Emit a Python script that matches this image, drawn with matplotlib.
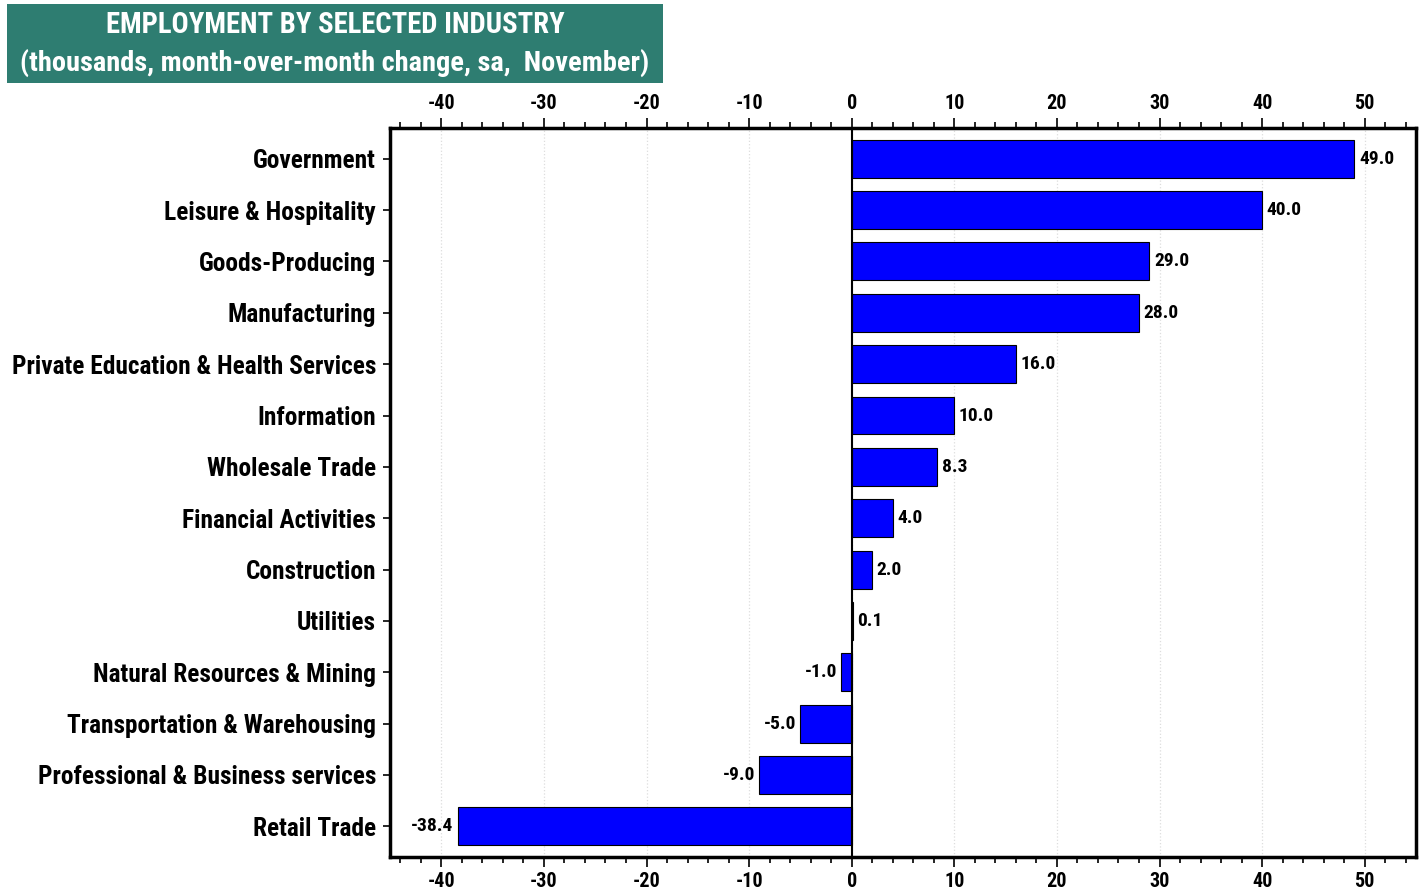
import matplotlib.pyplot as plt
from matplotlib.patches import Rectangle
from matplotlib.ticker import MultipleLocator

plt.rcParams['font.family'] = ['Roboto Condensed', 'DejaVu Sans']
plt.rcParams['axes.unicode_minus'] = False

industries = ["Government", "Leisure & Hospitality", "Goods-Producing", "Manufacturing",
              "Private Education & Health Services", "Information", "Wholesale Trade",
              "Financial Activities", "Construction", "Utilities",
              "Natural Resources & Mining", "Transportation & Warehousing",
              "Professional & Business services", "Retail Trade"]
changes = [49.0, 40.0, 29.0, 28.0, 16.0, 10.0, 8.3, 4.0, 2.0, 0.1, -1.0, -5.0, -9.0, -38.4]

fig = plt.figure(figsize=(14.24, 8.94), dpi=100)
ax = fig.add_axes([0.2739, 0.0414, 0.7205, 0.8154])

ypos = list(range(len(industries)))
ax.barh(ypos, changes, height=0.74, color='#0000FF', edgecolor='black', linewidth=0.8, zorder=3)
ax.axvline(0, color='black', linewidth=1.5, zorder=4)

for y, v in zip(ypos, changes):
    if v >= 0:
        ax.text(v + 0.45, y, f"{v:.1f}", va='center', ha='left', fontsize=14, fontweight='bold')
    else:
        ax.text(v - 0.45, y, f"{v:.1f}", va='center', ha='right', fontsize=14, fontweight='bold')

ax.set_xlim(-45, 55)
ax.set_ylim(13.6, -0.6)
ax.set_yticks(ypos)
ax.set_yticklabels(industries, fontsize=18.3, fontweight='bold')
ax.set_xticks([-40, -30, -20, -10, 0, 10, 20, 30, 40, 50])
ax.xaxis.set_minor_locator(MultipleLocator(2))
ax.tick_params(axis='x', which='both', top=True, labeltop=True, bottom=True, labelbottom=True,
               direction='out', labelsize=14.5, width=1.2)
ax.tick_params(axis='x', which='major', length=7)
ax.tick_params(axis='x', which='minor', length=4)
ax.tick_params(axis='y', direction='out', length=5, width=1.2, pad=5)
for lab in ax.get_xticklabels():
    lab.set_fontweight('bold')
ax.grid(axis='x', which='major', color='#dddddd', linestyle=':', linewidth=0.9, zorder=0)
for s in ax.spines.values():
    s.set_linewidth(2.5)

# title box
fig.patches.append(Rectangle((7 / 1424, 1 - 83 / 894), 656 / 1424, 79 / 894,
                             transform=fig.transFigure, facecolor='#2E7D71', edgecolor='none'))
fig.text(335 / 1424, 1 - 25 / 894, "EMPLOYMENT BY SELECTED INDUSTRY", ha='center', va='center',
         color='white', fontsize=20.6, fontweight='bold')
fig.text(335 / 1424, 1 - 63 / 894, "(thousands, month-over-month change, sa,  November)", ha='center',
         va='center', color='white', fontsize=20.4, fontweight='bold')

fig.savefig('out.png', dpi=100)
